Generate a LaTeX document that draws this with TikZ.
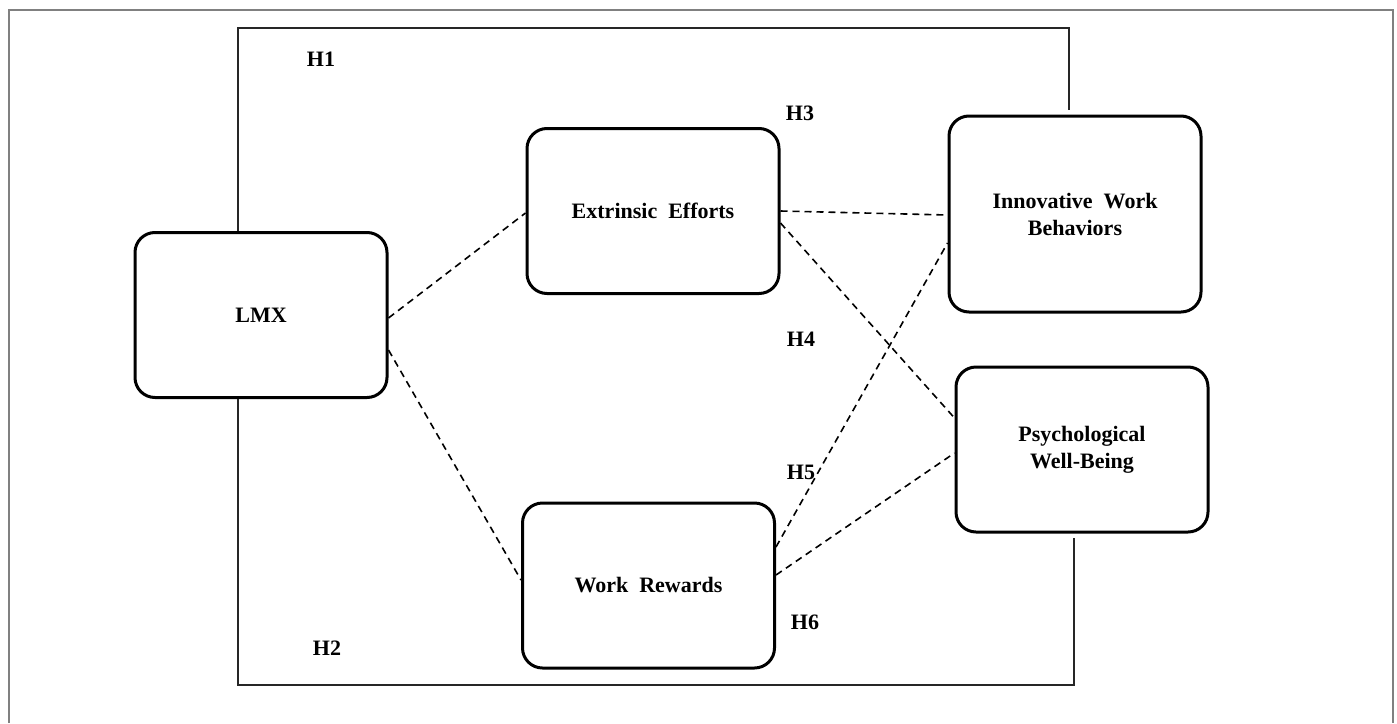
\documentclass[tikz,border=0pt]{standalone}
\usepackage{fontspec}
\setmainfont{Liberation Serif}
\usetikzlibrary{calc}
\begin{document}
\begin{tikzpicture}[x=0.5pt,y=-0.5pt,
  box/.style={draw=black, line width=1.5pt, rounded corners=10pt, minimum width=126pt,
    minimum height=82.5pt, align=center, font=\fontsize{11}{13.5}\selectfont\bfseries, inner sep=2pt},
  link/.style={draw=black, line width=0.8pt, dash pattern=on 3.5pt off 2.5pt},
  bracket/.style={draw=black!85, line width=0.8pt},
  hlabel/.style={inner sep=0pt, font=\fontsize{11}{13}\selectfont\bfseries},
  frame/.style={draw=black!50, line width=0.8pt}]
\useasboundingbox (0,0) rectangle (1397,723);
\draw[frame] (9,723) -- (9,10) -- (1393,10) -- (1393,723);

\node[box] (lmx) at (261,315) {LMX};
\node[box] (ee) at (653,211) {Extrinsic\ \ Efforts};
\node[box] (wr) at (648.5,585.5) {Work\ \ Rewards};
\node[box, minimum height=98pt] (iwb) at (1075,214) {Innovative\ \ Work\\Behaviors};
\node[box] (pwb) at (1082,449.5) {Psychological\\Well-Being};

\node[hlabel] (h1) at (321,59) {H1};
\node[hlabel] (h2) at (327,648) {H2};
\node[hlabel] (h3) at (800,113) {H3};
\node[hlabel] (h4) at (801,339) {H4};
\node[hlabel] (h5) at (801,472) {H5};
\node[hlabel] (h6) at (805,622) {H6};

\coordinate (h1tl) at (238,28);
\coordinate (h1tr) at (1069,28);
\coordinate (h2bl) at (238,685);
\coordinate (h2br) at (1074,685);
\draw[bracket] (lmx.north -| h1tl) -- (h1tl) -- (h1tr) -- ($(iwb.north -| h1tr)+(0,-5)$);
\draw[bracket] (lmx.south -| h2bl) -- (h2bl) -- (h2br) -- ($(pwb.south -| h2br)+(0,4)$);

\draw[link] ($(lmx.east)+(0,3)$) -- ($(ee.west)+(0,2)$);
\draw[link] ($(lmx.east)+(0,35)$) -- ($(wr.west)+(0,-5.5)$);
\draw[link] (ee.east) -- ($(iwb.west)+(0,1)$);
\draw[link] ($(ee.east)+(0,12)$) -- ($(pwb.west)+(0,-31.5)$);
\draw[link] ($(wr.east)+(0,-38.5)$) -- ($(iwb.west)+(0,29)$);
\draw[link] ($(wr.east)+(0,-10.5)$) -- ($(pwb.west)+(0,3.5)$);
\end{tikzpicture}
\end{document}
